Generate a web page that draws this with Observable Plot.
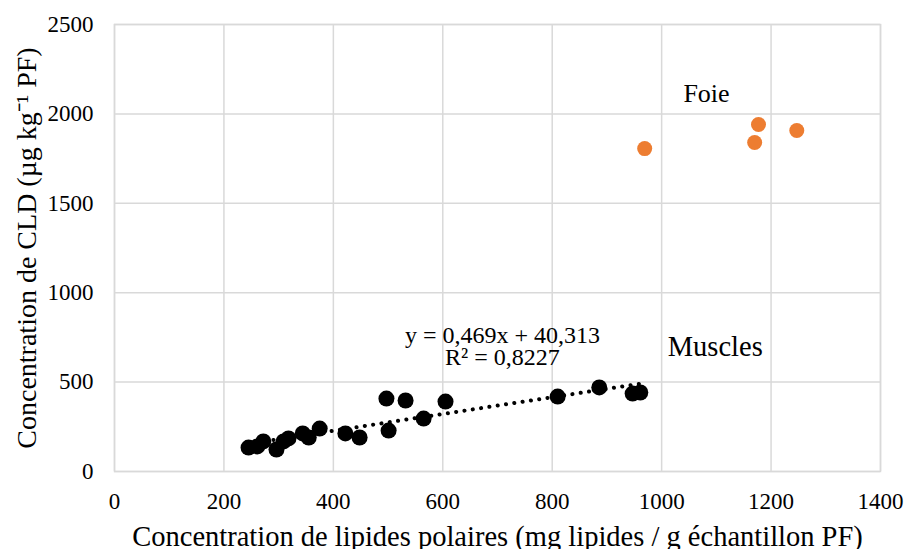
<!DOCTYPE html>
<html><head><meta charset="utf-8">
<script src="https://cdn.jsdelivr.net/npm/d3@7"></script>
<script src="https://cdn.jsdelivr.net/npm/@observablehq/plot@0.6"></script>
<style>
body{margin:0;background:#fff}
#chart svg, #chart svg text, #chart svg g { font-family: 'Liberation Serif', 'Times New Roman', serif !important; font-variant: normal !important; }
</style>
</head><body><div id="chart"></div>
<script>
// Muscles (black points)
const muscleX = [245, 261, 272, 296, 309, 318, 344, 355, 375, 422, 448, 497, 501, 532, 565, 605, 810, 886, 947, 961];
const muscleY = [134, 140, 168, 123, 168, 185, 213, 190, 240, 213, 190, 408, 229, 397, 296, 391, 419, 470, 436, 442];
// Foie (orange points)
const foieX = [969, 1170, 1177, 1247];
const foieY = [1806, 1840, 1941, 1907];
// Axes
const xTicks = [0, 200, 400, 600, 800, 1000, 1200, 1400];
const yTicks = [0, 500, 1000, 1500, 2000, 2500];
const xTitle = "Concentration de lipides polaires (mg lipides / g échantillon PF)";
const yTitle = "Concentration de CLD (µg kg⁻¹ PF)";
// Trendline
const slope = 0.469, intercept = 40.313;
const eqLine1 = "y = 0,469x + 40,313";
const eqLine2 = "R² = 0,8227";
const labelFoie = "Foie";
const labelMuscles = "Muscles";

const muscles = muscleX.map((x, i) => ({x, y: muscleY[i]}));
const foie = foieX.map((x, i) => ({x, y: foieY[i]}));
const trend = d3.extent(muscleX).map(x => ({x, y: slope * x + intercept}));

const FONT = "'Liberation Serif', 'Times New Roman', serif";
const GRID = "#d9d9d9";

const chart = Plot.plot({
  width: 907, height: 549,
  marginLeft: 114, marginRight: 27, marginTop: 24, marginBottom: 78,
  x: {domain: [0, 1400]},
  y: {domain: [0, 2500]},
  style: {fontFamily: FONT, fontSize: "23px", background: "#fff", color: "#000", overflow: "visible"},
  marks: [
    Plot.gridX(xTicks, {stroke: GRID, strokeOpacity: 1, strokeWidth: 1.5}),
    Plot.gridY(yTicks, {stroke: GRID, strokeOpacity: 1, strokeWidth: 1.5}),
    Plot.frame({stroke: GRID, strokeWidth: 1.5}),
    Plot.axisX(xTicks, {tickSize: 0, tickPadding: 21, fontSize: 23, fontFamily: FONT, tickFormat: d => String(d), label: null}),
    Plot.axisY(yTicks, {tickSize: 0, tickPadding: 21, fontSize: 23, fontFamily: FONT, tickFormat: d => String(d), label: null}),
    Plot.line(trend, {x: "x", y: "y", stroke: "#000", strokeWidth: 4, strokeDasharray: "0.1 8.3", strokeLinecap: "round"}),
    Plot.dot(muscles, {x: "x", y: "y", r: 8, fill: "#000"}),
    Plot.dot(foie, {x: "x", y: "y", r: 7.5, fill: "#ED7D31"}),
    Plot.text([labelFoie], {x: 1082, y: 2115, text: d => d, fontSize: 26, fontFamily: FONT}),
    Plot.text([labelMuscles], {x: 1098, y: 699, text: d => d, fontSize: 28.5, fontFamily: FONT}),
    Plot.text([eqLine1 + "\n" + eqLine2], {x: 709, y: 699, text: d => d, fontSize: 24, lineHeight: 0.93, lineAnchor: "middle", fontFamily: FONT}),
    Plot.text([xTitle], {frameAnchor: "bottom", dy: 65, textAnchor: "middle", lineAnchor: "middle", text: d => d, fontSize: 28.5, fontFamily: FONT}),
    Plot.text([yTitle], {frameAnchor: "left", dx: -87, rotate: -90, textAnchor: "middle", lineAnchor: "middle", text: d => d, fontSize: 28, fontFamily: FONT})
  ]
});
document.getElementById("chart").appendChild(chart);
</script>
</body></html>
